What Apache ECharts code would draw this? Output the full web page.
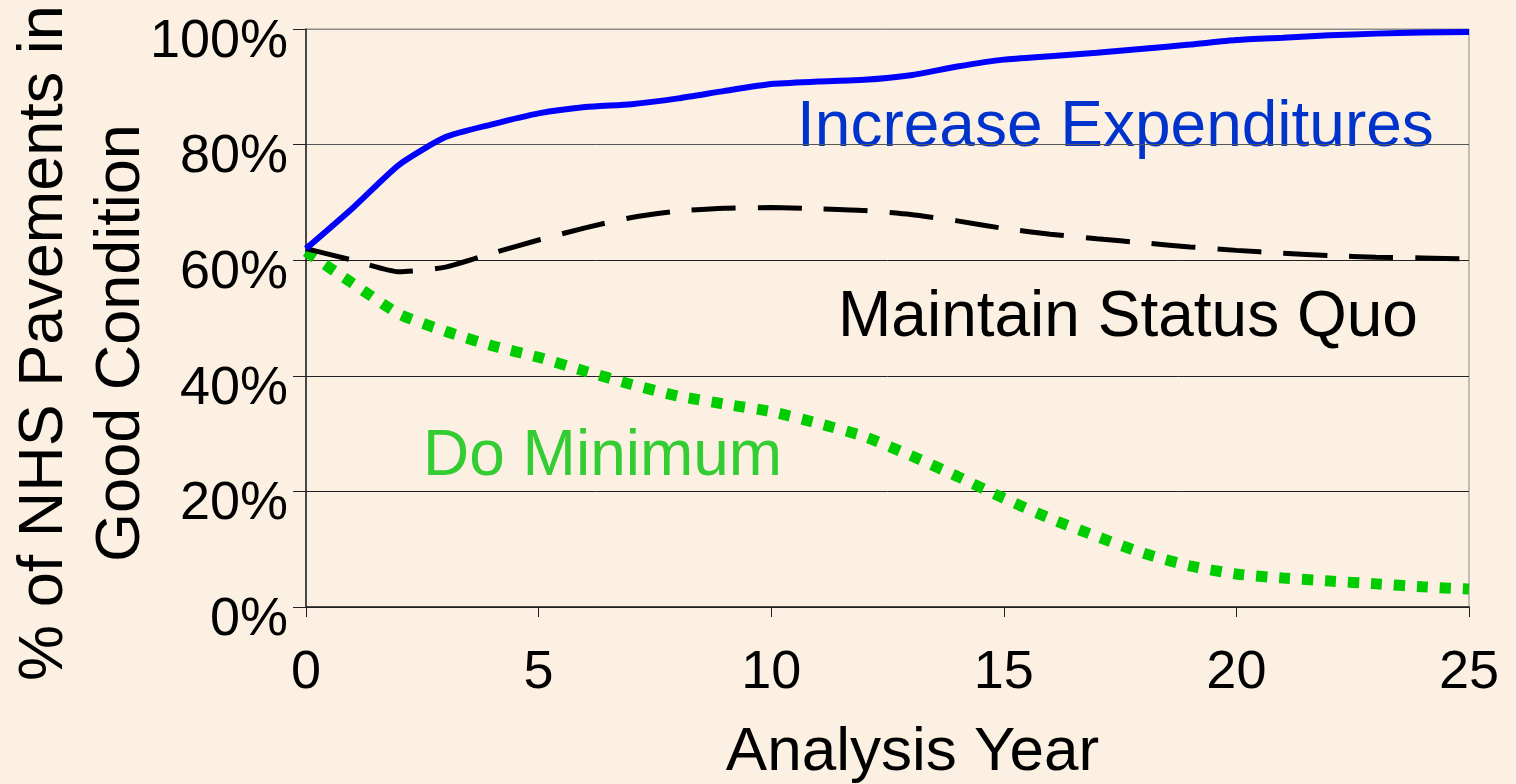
<!DOCTYPE html>
<html>
<head>
<meta charset="utf-8">
<script src="https://cdn.jsdelivr.net/npm/echarts@6/dist/echarts.min.js"></script>
<style>
  html, body { margin: 0; padding: 0; background: #fbf0e2; }
  #chart { width: 1516px; height: 784px; }
</style>
</head>
<body>
<div id="chart"></div>
<script>
// analysis years 0..25
const years = [0, 1, 2, 3, 4, 5, 6, 7, 8, 9, 10, 11, 12, 13, 14, 15, 16, 17, 18, 19, 20, 21, 22, 23, 24, 25]

// % of pavements in good condition
const increaseExpenditures = [62, 69, 76.5, 81.3, 83.5, 85.4, 86.5, 87, 88, 89.3, 90.5, 90.9, 91.2, 92, 93.5, 94.7, 95.3, 95.9, 96.6, 97.3, 98.1, 98.5, 98.9, 99.2, 99.4, 99.5]
const maintainStatusQuo = [62, 60, 58, 58.8, 61.2, 63.5, 65.6, 67.4, 68.5, 69, 69.1, 68.9, 68.6, 67.9, 66.8, 65.5, 64.5, 63.7, 63, 62.3, 61.7, 61.2, 60.8, 60.5, 60.4, 60.2]
const doMinimum = [61.5, 56, 50.7, 47.7, 45.2, 43.2, 40.8, 38.5, 36.5, 35.1, 33.8, 31.8, 29.5, 26.2, 22.6, 18.8, 15.3, 12.2, 9.3, 7.1, 5.7, 5.0, 4.5, 4.0, 3.5, 3.1]

const FONT = "'Liberation Sans', Arial, sans-serif"

const pairs = arr => years.map((y, i) => [y, arr[i]])

const chart = echarts.init(document.getElementById('chart'))

const option = {
    backgroundColor: '#fbf0e2',
    animation: false,
    grid: {
        left: 306,
        right: 47,
        top: 29,
        bottom: 177,
        outerBoundsMode: 'none',
        containLabel: false,
        show: true,
        borderColor: '#8a8a8a',
        borderWidth: 1
    },
    xAxis: {
        type: 'value',
        min: 0,
        max: 25,
        interval: 5,
        name: 'Analysis Year',
        nameLocation: 'middle',
        nameGap: 115,
        nameMoveOverlap: false,
        nameTextStyle: {
            color: '#000',
            fontFamily: FONT,
            fontSize: 62,
            padding: [0, 0, 0, 50]
        },
        axisLine: { show: true, lineStyle: { color: '#222', width: 1.5 } },
        axisTick: { show: true, length: 10, lineStyle: { color: '#222' } },
        axisLabel: {
            color: '#000',
            fontFamily: FONT,
            fontSize: 54,
            margin: 39
        },
        splitLine: { show: false }
    },
    yAxis: {
        type: 'value',
        min: 0,
        max: 100,
        interval: 20,
        name: '% of NHS Pavements in\nGood Condition',
        nameLocation: 'middle',
        nameRotate: 90,
        nameGap: 146,
        nameMoveOverlap: false,
        nameTextStyle: {
            color: '#000',
            fontFamily: FONT,
            fontSize: 63,
            lineHeight: 77,
            padding: [0, 50, 0, 0]
        },
        axisLine: { show: true, lineStyle: { color: '#222', width: 1.5 } },
        axisTick: { show: true, length: 13, lineStyle: { color: '#222' } },
        axisLabel: {
            color: '#000',
            fontFamily: FONT,
            fontSize: 54,
            margin: 18,
            verticalAlign: 'top',
            lineHeight: 26,
            formatter: '{value}%'
        },
        splitLine: {
            show: true,
            lineStyle: { color: ['#222', '#222', '#222', '#222', '#555', '#8a8a8a'], width: 1 }
        }
    },
    series: [
        {
            name: 'Increase Expenditures',
            type: 'line',
            data: pairs(increaseExpenditures),
            showSymbol: false,
            smooth: 0.2,
            lineStyle: { color: '#0000ff', width: 6 },
            z: 4
        },
        {
            name: 'Maintain Status Quo',
            type: 'line',
            data: pairs(maintainStatusQuo),
            showSymbol: false,
            smooth: 0.2,
            lineStyle: { color: '#000', width: 5, type: [44, 22] },
            z: 3
        },
        {
            name: 'Do Minimum',
            type: 'line',
            data: pairs(doMinimum),
            showSymbol: false,
            smooth: 0.2,
            lineStyle: { color: '#00cc00', width: 11, type: [11, 12], cap: 'butt' },
            z: 2
        }
    ],
    graphic: [
        {
            type: 'text', left: 797, top: 96,
            style: { text: 'Increase Expenditures', fill: '#0033cc', font: '64px ' + FONT }
        },
        {
            type: 'text', left: 838, top: 286,
            style: { text: 'Maintain Status Quo', fill: '#000', font: '64px ' + FONT }
        },
        {
            type: 'text', left: 423, top: 425,
            style: { text: 'Do Minimum', fill: '#33cc33', font: '64px ' + FONT }
        }
    ]
}

chart.setOption(option)
</script>
</body>
</html>
